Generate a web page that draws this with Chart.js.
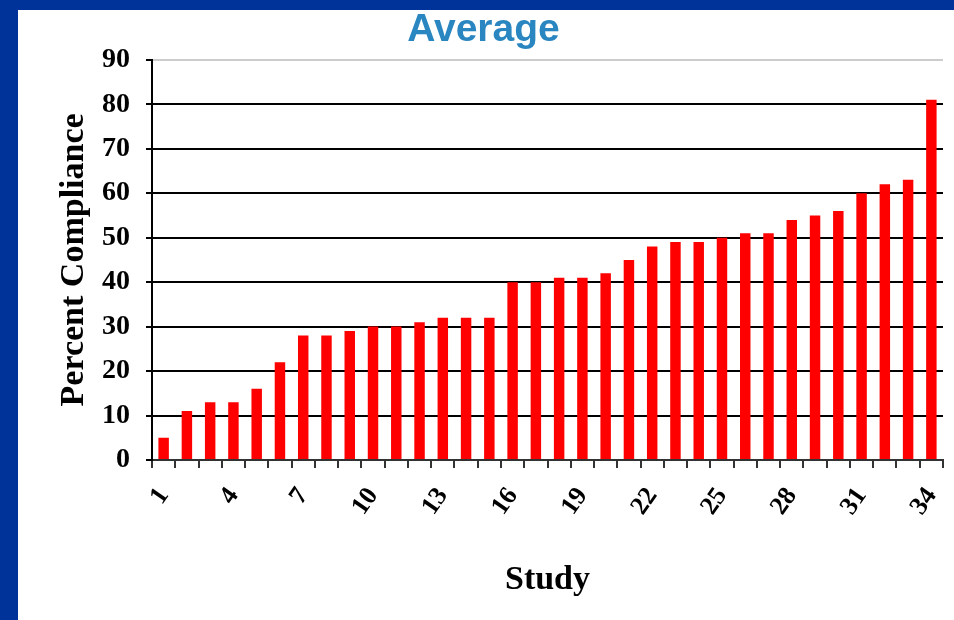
<!DOCTYPE html>
<html>
<head>
<meta charset="utf-8">
<script src="https://cdn.jsdelivr.net/npm/chart.js@4.4.0/dist/chart.umd.min.js"></script>
<style>
  html, body { margin: 0; padding: 0; background: #003399; }
  #frame {
    position: absolute;
    left: 18px;
    top: 10px;
    width: 936px;
    height: 610px;
    background: #ffffff;
  }
</style>
</head>
<body>
<div id="frame"><canvas id="chart"></canvas></div>
<script>
const studies = [];
for (let i = 1; i <= 34; i++) studies.push(String(i));

const compliance = [
  5, 11, 13, 13, 16, 22, 28, 28, 29, 30,
  30, 31, 32, 32, 32, 40, 40, 41, 41, 42,
  45, 48, 49, 49, 50, 51, 51, 54, 55, 56,
  60, 62, 63, 81
];

const yTicks = [0, 10, 20, 30, 40, 50, 60, 70, 80, 90];

const serifBold = { family: "'Liberation Serif', 'Times New Roman', serif", weight: "bold" };

function font(size) {
  return Object.assign({ size: size }, serifBold);
}

const ctx = document.getElementById("chart");

new Chart(ctx, {
  type: "bar",
  data: {
    labels: studies,
    datasets: [
      {
        label: "Average",
        data: compliance,
        backgroundColor: "#ff0000",
        borderWidth: 0,
        barPercentage: 0.45,
        categoryPercentage: 1.0,
      },
    ],
  },
  options: {
    responsive: true,
    maintainAspectRatio: false,
    animation: false,
    layout: {
      padding: { left: 6, right: 11, top: 0, bottom: 0 },
    },
    plugins: {
      legend: { display: false },
      tooltip: { enabled: false },
      title: {
        display: true,
        text: "Average",
        color: "#2a86c0",
        font: { family: "'Liberation Sans', Arial, sans-serif", size: 39, weight: "bold" },
        padding: { top: -3, bottom: 6 },
      },
    },
    scales: {
      x: {
        offset: true,
        afterFit: function (axis) {
          axis.height = 160;
          axis.paddingLeft = 0;
          axis.paddingRight = 0;
        },
        grid: {
          offset: true,
          drawOnChartArea: false,
          drawTicks: true,
          tickLength: 8,
          color: "#333333",
          lineWidth: 2,
        },
        border: { color: "#333333", width: 2 },
        ticks: {
          autoSkip: false,
          minRotation: 55,
          maxRotation: 55,
          color: "#000000",
          font: font(26),
          padding: 14,
          callback: function (val, index) {
            return index % 3 === 0 ? this.getLabelForValue(val) : "";
          },
        },
        title: {
          display: true,
          text: "Study",
          color: "#000000",
          font: font(34),
          padding: { top: 0, bottom: 19 },
        },
      },
      y: {
        min: 0,
        max: 90,
        afterFit: function (axis) {
          axis.width = 128;
        },
        afterBuildTicks: function (axis) {
          axis.ticks = yTicks.map(function (v) { return { value: v }; });
        },
        grid: {
          color: function (c) {
            return c.tick && c.tick.value === 90 ? "#cccccc" : "#000000";
          },
          lineWidth: 2,
          tickLength: 6,
          tickColor: "#000000",
        },
        border: { color: "#000000", width: 2 },
        ticks: {
          color: "#000000",
          font: font(28),
          padding: 16,
        },
        title: {
          display: true,
          text: "Percent Compliance",
          color: "#000000",
          font: font(34),
          padding: { top: 30, bottom: 0 },
        },
      },
    },
  },
});
</script>
</body>
</html>
